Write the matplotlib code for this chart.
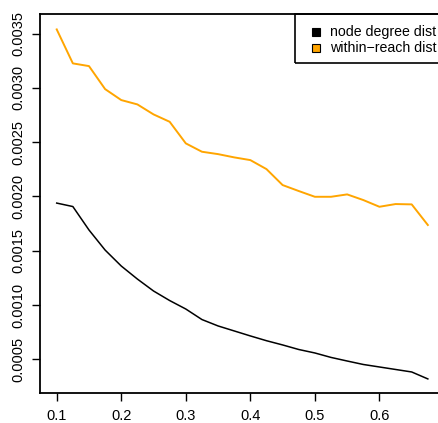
import matplotlib
matplotlib.use("Agg")
import matplotlib.pyplot as plt
from matplotlib.patches import Rectangle

x_vals = [0.1, 0.125, 0.15, 0.175, 0.2, 0.225, 0.25, 0.275, 0.3, 0.325, 0.35, 0.375,
          0.4, 0.425, 0.45, 0.475, 0.5, 0.525, 0.55, 0.575, 0.6, 0.625, 0.65, 0.675]
node_degree = [0.001939, 0.001907, 0.001691, 0.001506, 0.001359, 0.001239, 0.001129, 0.001041,
               0.000963, 0.000866, 0.000807, 0.000761, 0.000715, 0.000671, 0.000632, 0.000590,
               0.000558, 0.000517, 0.000484, 0.000452, 0.000429, 0.000406, 0.000383, 0.000319]
within_reach = [0.003539, 0.003226, 0.003201, 0.002989, 0.002888, 0.002848, 0.002756, 0.002688,
                0.002489, 0.002412, 0.002390, 0.002360, 0.002335, 0.002252, 0.002105, 0.002050,
                0.001997, 0.001997, 0.002019, 0.001967, 0.001905, 0.001930, 0.001927, 0.001737]
x_ticks = [0.1, 0.2, 0.3, 0.4, 0.5, 0.6]
x_tick_labels = ["0.1", "0.2", "0.3", "0.4", "0.5", "0.6"]
y_ticks = [0.0005, 0.0010, 0.0015, 0.0020, 0.0025, 0.0030, 0.0035]
y_tick_labels = ["0.0005", "0.0010", "0.0015", "0.0020", "0.0025", "0.0030", "0.0035"]
legend_labels = ["node degree dist", "within\u2212reach dist"]
colors = ["black", "#FFA500"]

plt.rcParams['font.family'] = ['Liberation Sans', 'DejaVu Sans']

W, H = 438, 423
fig = plt.figure(figsize=(W / 100, H / 100), dpi=100)
L, R, T, B = 40, 443, 14, 392.7
ax = fig.add_axes([L / W, 1 - B / H, (R - L) / W, (B - T) / H])

ax.plot(x_vals, node_degree, color=colors[0], lw=1.1)
ax.plot(x_vals, within_reach, color=colors[1], lw=1.4)

ax.set_xlim(0.0741, 0.6985)
ax.set_ylim(0.000192, 0.003681)
ax.set_xticks(x_ticks)
ax.set_xticklabels(x_tick_labels)
ax.set_yticks(y_ticks)
ax.set_yticklabels(y_tick_labels, rotation=90, va='center')
ax.tick_params(axis='both', direction='out', length=6, width=1.0, labelsize=10.5, colors='black')
ax.tick_params(axis='y', pad=4.5)
ax.tick_params(axis='x', pad=5.5)
for s in ax.spines.values():
    s.set_linewidth(1.3)

# legend box (top-right)
def fx(px):
    return px / W
def fy(py):
    return 1 - py / H

fig.patches.append(Rectangle((fx(295), fy(63.3)), fx(445) - fx(295), fy(14) - fy(63.3),
                             transform=fig.transFigure, fill=False, edgecolor='black', lw=1.2))
for i, (lab, c) in enumerate(zip(legend_labels, colors)):
    yc = 32.3 + 16 * i
    fig.text(fx(330.5), fy(yc), lab, fontsize=10.2, va='center', ha='left')
    fig.patches.append(Rectangle((fx(312), fy(yc + 4)), fx(320) - fx(312), fy(yc - 4) - fy(yc + 4),
                                 transform=fig.transFigure, facecolor=c, edgecolor='black', lw=0.8))

fig.savefig("out.png", dpi=100)
